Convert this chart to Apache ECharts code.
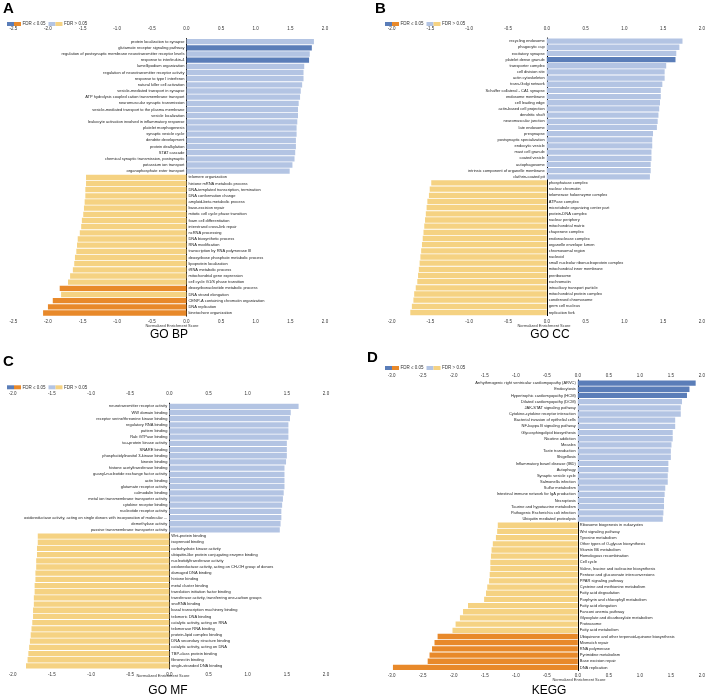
<!DOCTYPE html>
<html>
<head>
<meta charset="utf-8">
<script src="https://cdn.jsdelivr.net/npm/echarts@6/dist/echarts.min.js"></script>
<style>
  html, body { margin: 0; padding: 0; background: #fff; }
  #chart { width: 708px; height: 696px; }
</style>
</head>
<body>
<div id="chart"></div>
<script>
// GO BP
var bpTerms = [
  'protein localization to synapse', 'glutamate receptor signaling pathway',
  'regulation of postsynaptic membrane neurotransmitter receptor levels', 'response to interleukin-4',
  'lamellipodium organization', 'regulation of neurotransmitter receptor activity',
  'response to type I interferon', 'natural killer cell activation',
  'vesicle-mediated transport in synapse', 'ATP hydrolysis coupled cation transmembrane transport',
  'neuromuscular synaptic transmission', 'vesicle-mediated transport to the plasma membrane',
  'vesicle localization', 'leukocyte activation involved in inflammatory response',
  'platelet morphogenesis', 'synaptic vesicle cycle', 'dendrite development', 'protein dealkylation',
  'STAT cascade', 'chemical synaptic transmission, postsynaptic', 'potassium ion transport',
  'organophosphate ester transport',
  'telomere organization', 'histone mRNA metabolic process', 'DNA-templated transcription, termination',
  'DNA conformation change', 'amyloid-beta metabolic process', 'base-excision repair',
  'mitotic cell cycle phase transition', 'foam cell differentiation', 'interstrand cross-link repair',
  'ncRNA processing', 'DNA biosynthetic process', 'RNA modification', 'transcription by RNA polymerase III',
  'deoxyribose phosphate metabolic process', 'lipoprotein localization', 'tRNA metabolic process',
  'mitochondrial gene expression', 'cell cycle G1/S phase transition',
  'deoxyribonucleotide metabolic process', 'DNA strand elongation',
  'CENP-A containing chromatin organization', 'DNA replication', 'kinetochore organization'
];
var bpNES = [
  1.84, 1.81, 1.78, 1.77, 1.70, 1.69, 1.69, 1.67, 1.65, 1.64, 1.62, 1.61, 1.61, 1.60, 1.59, 1.59,
  1.58, 1.58, 1.57, 1.56, 1.53, 1.49,
  -1.45, -1.45, -1.46, -1.46, -1.47, -1.48, -1.49, -1.51, -1.52, -1.54, -1.57, -1.58, -1.59,
  -1.61, -1.62, -1.64, -1.68, -1.71, -1.83, -1.81, -1.93, -2.00, -2.07
];
var bpSig = [
  0, 1, 0, 1, 0, 0, 0, 0, 0, 0, 0, 0, 0, 0, 0, 0, 0, 0, 0, 0, 0, 0,
  0, 0, 0, 0, 0, 0, 0, 0, 0, 0, 0, 0, 0, 0, 0, 0, 0, 0, 1, 0, 1, 1, 1
];
var bpTicks = [-2.5, 2.0];

// GO CC
var ccTerms = [
  'recycling endosome', 'phagocytic cup', 'excitatory synapse', 'platelet dense granule',
  'transporter complex', 'cell division site', 'actin cytoskeleton', 'trans-Golgi network',
  'Schaffer collateral - CA1 synapse', 'endosome membrane', 'cell leading edge',
  'actin-based cell projection', 'dendritic shaft', 'neuromuscular junction', 'late endosome',
  'presynapse', 'postsynaptic specialization', 'endocytic vesicle', 'mast cell granule',
  'coated vesicle', 'autophagosome', 'intrinsic component of organelle membrane', 'clathrin-coated pit',
  'phosphatase complex', 'nuclear chromatin', 'telomerase holoenzyme complex', 'ATPase complex',
  'microtubule organizing center part', 'protein-DNA complex', 'nuclear periphery',
  'mitochondrial matrix', 'chaperone complex', 'endonuclease complex', 'organelle envelope lumen',
  'chromosomal region', 'nucleoid', 'small nucleolar ribonucleoprotein complex',
  'mitochondrial inner membrane', 'preribosome', 'euchromatin', 'intraciliary transport particle',
  'mitochondrial protein complex', 'condensed chromosome', 'germ cell nucleus', 'replication fork'
];
var ccNES = [
  1.75, 1.71, 1.67, 1.66, 1.54, 1.52, 1.52, 1.49, 1.47, 1.47, 1.46, 1.45, 1.44, 1.43, 1.42,
  1.37, 1.36, 1.36, 1.35, 1.35, 1.34, 1.34, 1.33,
  -1.49, -1.51, -1.52, -1.54, -1.55, -1.56, -1.57, -1.58, -1.59, -1.60, -1.61, -1.62, -1.63,
  -1.64, -1.65, -1.66, -1.67, -1.69, -1.71, -1.72, -1.74, -1.76
];
var ccSig = [
  0, 0, 0, 1, 0, 0, 0, 0, 0, 0, 0, 0, 0, 0, 0, 0, 0, 0, 0, 0, 0, 0, 0,
  0, 0, 0, 0, 0, 0, 0, 0, 0, 0, 0, 0, 0, 0, 0, 0, 0, 0, 0, 0, 0, 0
];
var ccTicks = [-2.0, 2.0];

// GO MF
var mfTerms = [
  'neurotransmitter receptor activity', 'WW domain binding', 'receptor serine/threonine kinase binding',
  'regulatory RNA binding', 'pattern binding', 'Rab GTPase binding', 'tau-protein kinase activity',
  'SNARE binding', 'phosphatidylinositol 3-kinase binding', 'kinesin binding',
  'histone acetyltransferase binding', 'guanyl-nucleotide exchange factor activity', 'actin binding',
  'glutamate receptor activity', 'calmodulin binding', 'metal ion transmembrane transporter activity',
  'cytokine receptor binding', 'nucleotide receptor activity',
  'oxidoreductase activity, acting on single donors with incorporation of molecular ...',
  'demethylase activity', 'passive transmembrane transporter activity',
  'Wnt-protein binding', 'isoprenoid binding', 'carbohydrate kinase activity',
  'ubiquitin-like protein conjugating enzyme binding', 'nucleotidyltransferase activity',
  'oxidoreductase activity, acting on CH-OH group of donors', 'damaged DNA binding', 'histone binding',
  'metal cluster binding', 'translation initiation factor binding',
  'transferase activity, transferring one-carbon groups', 'snoRNA binding',
  'basal transcription machinery binding', 'telomeric DNA binding', 'catalytic activity, acting on RNA',
  'telomerase RNA binding', 'protein-lipid complex binding', 'DNA secondary structure binding',
  'catalytic activity, acting on DNA', 'TBP-class protein binding', 'fibronectin binding',
  'single-stranded DNA binding'
];
var mfNES = [
  1.65, 1.55, 1.54, 1.52, 1.52, 1.52, 1.50, 1.50, 1.50, 1.49, 1.47, 1.47, 1.47, 1.47, 1.46,
  1.45, 1.44, 1.43, 1.43, 1.42, 1.41,
  -1.68, -1.68, -1.69, -1.69, -1.70, -1.70, -1.71, -1.71, -1.72, -1.72, -1.73, -1.73, -1.74,
  -1.74, -1.75, -1.76, -1.77, -1.78, -1.79, -1.80, -1.81, -1.83
];
var mfSig = [
  0, 0, 0, 0, 0, 0, 0, 0, 0, 0, 0, 0, 0, 0, 0, 0, 0, 0, 0, 0, 0,
  0, 0, 0, 0, 0, 0, 0, 0, 0, 0, 0, 0, 0, 0, 0, 0, 0, 0, 0, 0, 0, 0
];
var mfTicks = [-2.0, 2.0];

// KEGG
var keggTerms = [
  'Arrhythmogenic right ventricular cardiomyopathy (ARVC)', 'Endocytosis',
  'Hypertrophic cardiomyopathy (HCM)', 'Dilated cardiomyopathy (DCM)', 'JAK-STAT signaling pathway',
  'Cytokine-cytokine receptor interaction', 'Bacterial invasion of epithelial cells',
  'NF-kappa B signaling pathway', 'Glycosphingolipid biosynthesis', 'Nicotine addiction', 'Measles',
  'Taste transduction', 'Shigellosis', 'Inflammatory bowel disease (IBD)', 'Autophagy',
  'Synaptic vesicle cycle', 'Salmonella infection', 'Sulfur metabolism',
  'Intestinal immune network for IgA production', 'Necroptosis', 'Taurine and hypotaurine metabolism',
  'Pathogenic Escherichia coli infection', 'Ubiquitin mediated proteolysis',
  'Ribosome biogenesis in eukaryotes', 'Wnt signaling pathway', 'Tyrosine metabolism',
  'Other types of O-glycan biosynthesis', 'Vitamin B6 metabolism', 'Homologous recombination',
  'Cell cycle', 'Valine, leucine and isoleucine biosynthesis', 'Pentose and glucuronate interconversions',
  'PPAR signaling pathway', 'Cysteine and methionine metabolism', 'Fatty acid degradation',
  'Porphyrin and chlorophyll metabolism', 'Fatty acid elongation', 'Fanconi anemia pathway',
  'Glyoxylate and dicarboxylate metabolism', 'Proteasome', 'Fatty acid metabolism',
  'Ubiquinone and other terpenoid-quinone biosynthesis', 'Mismatch repair', 'RNA polymerase',
  'Pyrimidine metabolism', 'Base excision repair', 'DNA replication'
];
var keggNES = [
  1.90, 1.80, 1.76, 1.68, 1.66, 1.66, 1.57, 1.57, 1.53, 1.53, 1.51, 1.50, 1.50, 1.46, 1.46,
  1.45, 1.45, 1.41, 1.40, 1.39, 1.39, 1.38, 1.37,
  -1.29, -1.30, -1.32, -1.37, -1.39, -1.40, -1.41, -1.41, -1.42, -1.43, -1.46, -1.48, -1.51,
  -1.77, -1.85, -1.90, -1.97, -2.02, -2.26, -2.31, -2.35, -2.39, -2.42, -2.98
];
var keggSig = [
  1, 1, 1, 0, 0, 0, 0, 0, 0, 0, 0, 0, 0, 0, 0, 0, 0, 0, 0, 0, 0, 0, 0,
  0, 0, 0, 0, 0, 0, 0, 0, 0, 0, 0, 0, 0, 0, 0, 0, 0, 0, 1, 1, 1, 1, 1, 1
];
var keggTicks = [-3.0, 2.0];

var DARK_BLUE = '#5a7db8', LIGHT_BLUE = '#b3c4e3';
var DARK_ORANGE = '#e8892a', LIGHT_ORANGE = '#f5d282';
var FONT = 'Liberation Sans, Arial, sans-serif';

// panel boxes (grid) and axis offsets
var panels = [
  {terms: bpTerms, nes: bpNES, sig: bpSig, ticks: bpTicks, letter: 'A', caption: 'GO BP',
   grid: {left: 13.3, top: 38.6, width: 311.7, height: 277.5}, offTop: 5, offBot: 1,
   legX: 7, legY: 24, letX: 3, letY: 1, nameX: 172, nameY: 325.5, capX: 169, capY: 335},
  {terms: ccTerms, nes: ccNES, sig: ccSig, ticks: ccTicks, letter: 'B', caption: 'GO CC',
   grid: {left: 391.7, top: 38, width: 311.6, height: 277.6}, offTop: 4.7, offBot: 1.4,
   legX: 385, legY: 24, letX: 375, letY: 1, nameX: 544, nameY: 326, capX: 550, capY: 335},
  {terms: mfTerms, nes: mfNES, sig: mfSig, ticks: mfTicks, letter: 'C', caption: 'GO MF',
   grid: {left: 12.7, top: 403.2, width: 313.3, height: 265.8}, offTop: 4.5, offBot: 1.7,
   legX: 7, legY: 387.3, letX: 3, letY: 354, nameX: 163, nameY: 676, capX: 168, capY: 691},
  {terms: keggTerms, nes: keggNES, sig: keggSig, ticks: keggTicks, letter: 'D', caption: 'KEGG',
   grid: {left: 391.7, top: 380, width: 311.3, height: 290.5}, offTop: 0, offBot: 0.3,
   legX: 385, legY: 368, letX: 367, letY: 350, nameX: 579, nameY: 680, capX: 549, capY: 691}
];

var grids = [], xAxes = [], yAxes = [], series = [], graphics = [];

panels.forEach(function (p, i) {
  grids.push(p.grid);
  var axisCommon = {
    type: 'value', gridIndex: i, min: p.ticks[0], max: p.ticks[1], interval: 0.5,
    splitLine: {show: false},
    axisLine: {onZero: false, lineStyle: {color: '#000', width: 1}},
    axisTick: {length: 2, lineStyle: {color: '#000'}},
    axisLabel: {fontSize: 4.5, color: '#333', fontFamily: FONT, margin: 2,
      formatter: function (v) { return v.toFixed(1); }}
  };
  xAxes.push(Object.assign({}, axisCommon, {position: 'top', offset: p.offTop}));
  xAxes.push(Object.assign({}, axisCommon, {position: 'bottom', offset: p.offBot}));
  yAxes.push({
    type: 'category', gridIndex: i, data: p.terms, inverse: true,
    axisLine: {onZero: true, onZeroAxisIndex: i * 2, lineStyle: {color: '#000', width: 1}},
    axisTick: {length: 1, lineStyle: {color: '#000'}},
    axisLabel: {show: false}
  });

  var pos = [], neg = [];
  p.nes.forEach(function (v, k) {
    var sig = p.sig[k] === 1;
    if (v >= 0) {
      pos.push({value: v, itemStyle: {color: sig ? DARK_BLUE : LIGHT_BLUE}});
      neg.push('-');
    } else {
      neg.push({value: v, itemStyle: {color: sig ? DARK_ORANGE : LIGHT_ORANGE}});
      pos.push('-');
    }
  });
  var labelCommon = {show: true, fontSize: 4, color: '#222', fontFamily: FONT, distance: 2,
    formatter: function (prm) { return prm.name; }};
  series.push({
    type: 'bar', xAxisIndex: i * 2, yAxisIndex: i, stack: 'p' + i, data: pos,
    barCategoryGap: '14%', silent: true,
    label: Object.assign({}, labelCommon, {position: 'left'})
  });
  series.push({
    type: 'bar', xAxisIndex: i * 2, yAxisIndex: i, stack: 'p' + i, data: neg,
    barCategoryGap: '14%', silent: true,
    label: Object.assign({}, labelCommon, {position: 'right'})
  });

  // panel letter, caption, axis name
  graphics.push({type: 'text', left: p.letX, top: p.letY,
    style: {text: p.letter, font: 'bold 15px ' + FONT, fill: '#000'}});
  graphics.push({type: 'text', x: p.capX, y: p.capY,
    style: {text: p.caption, font: '12px ' + FONT, fill: '#000', align: 'center', verticalAlign: 'middle'}});
  graphics.push({type: 'text', x: p.nameX, y: p.nameY,
    style: {text: 'Normalized Enrichment Score', font: '4px ' + FONT, fill: '#333',
      align: 'center', verticalAlign: 'middle'}});

  // legend: two swatches per entry
  var lx = p.legX, ly = p.legY;
  graphics.push({type: 'rect', shape: {x: lx, y: ly - 2, width: 7, height: 4}, style: {fill: DARK_BLUE}});
  graphics.push({type: 'rect', shape: {x: lx + 7, y: ly - 2, width: 7, height: 4}, style: {fill: DARK_ORANGE}});
  graphics.push({type: 'text', x: lx + 15.5, y: ly,
    style: {text: 'FDR ≤ 0.05', font: '4.5px ' + FONT, fill: '#333', verticalAlign: 'middle'}});
  graphics.push({type: 'rect', shape: {x: lx + 41.5, y: ly - 2, width: 7, height: 4}, style: {fill: LIGHT_BLUE}});
  graphics.push({type: 'rect', shape: {x: lx + 48.5, y: ly - 2, width: 7, height: 4}, style: {fill: LIGHT_ORANGE}});
  graphics.push({type: 'text', x: lx + 57, y: ly,
    style: {text: 'FDR > 0.05', font: '4.5px ' + FONT, fill: '#333', verticalAlign: 'middle'}});
});

var chart = echarts.init(document.getElementById('chart'));
chart.setOption({
  backgroundColor: '#fff',
  animation: false,
  grid: grids,
  xAxis: xAxes,
  yAxis: yAxes,
  series: series,
  graphic: graphics
});
</script>
</body>
</html>
